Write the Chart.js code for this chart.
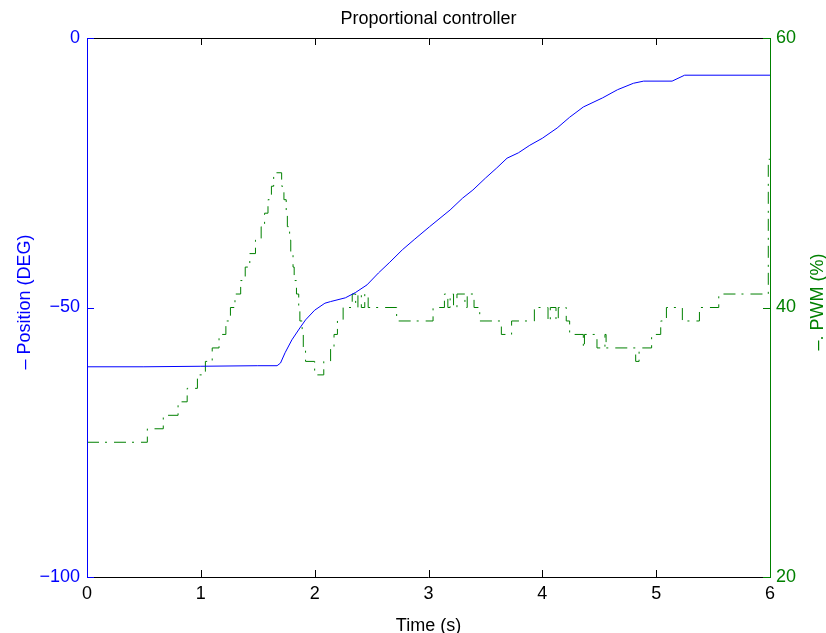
<!DOCTYPE html>
<html>
<head>
<meta charset="utf-8">
<script src="https://cdn.jsdelivr.net/npm/chart.js@4"></script>
<style>
html,body{margin:0;padding:0;background:#fff;}
canvas{display:block;}
</style>
</head>
<body>
<canvas id="chart" width="826" height="633"></canvas>
<script>
// position trace (left axis, DEG)
const posTime=[0,0.5,1.0,1.5,1.67,1.70,1.74,1.80,1.87,1.92,2.00,2.09,2.14,2.27,2.36,2.46,2.56,2.66,2.77,2.88,3.01,3.19,3.30,3.39,3.50,3.60,3.69,3.79,3.89,4.00,4.13,4.24,4.36,4.53,4.66,4.80,4.89,5.14,5.25,6.0];
const posValue=[-61.0,-61.0,-60.9,-60.8,-60.8,-60.3,-58.4,-56.0,-53.8,-52.3,-50.5,-49.2,-48.9,-48.2,-47.2,-45.8,-43.6,-41.6,-39.3,-37.3,-35.0,-31.9,-29.7,-28.2,-26.0,-24.1,-22.3,-21.3,-19.9,-18.6,-16.7,-14.7,-12.8,-11.1,-9.6,-8.4,-8.0,-8.0,-6.9,-6.9];

// PWM trace (right axis, %), value held from each time
const pwmTime=[0,0.53,0.67,0.80,0.88,0.97,1.04,1.10,1.16,1.22,1.26,1.30,1.35,1.39,1.43,1.48,1.53,1.56,1.59,1.62,1.64,
  1.71,1.73,1.75,1.76,1.78,1.79,1.81,1.82,1.84,1.86,1.87,1.89,1.90,1.92,2.00,2.08,2.14,2.17,2.20,2.25,2.33,2.36,2.38,2.41,2.44,2.47,
  2.72,3.04,3.14,3.17,3.19,3.22,3.25,3.32,3.34,3.40,3.45,3.64,3.73,3.93,4.05,4.07,4.12,4.14,4.21,4.24,4.36,4.37,4.48,4.55,4.56,
  4.82,4.85,4.96,5.04,5.09,5.23,5.38,5.55,5.985,6.0];
const pwmValue=[30,31,32,33,34,35,36,37,38,39,40,41,42,43,44,45,46,47,48,49,50,
  49,48,47,46,45,44,43,42,41,40,39,38,37,36,35,36,37,38,39,40,41,40,41,40,41,40,
  39,40,41,40,41,40,41,40,41,40,39,38,39,40,39,40,39,40,39,38,37,38,37,38,37,
  36,37,38,39,40,39,40,41,51,51];

const xTicks=[0,1,2,3,4,5,6];
const leftTicks=[-100,-50,0];
const rightTicks=[20,40,60];

const FONT='"Liberation Sans", Arial, Helvetica, sans-serif';
const BLUE='#0000ff', GREEN='#008000';

const frame={
  id:'frame',
  afterDatasetsDraw(chart){
    const {ctx,chartArea:a,scales}=chart;
    const L=a.left,R=a.right,T=a.top,B=a.bottom,tk=7;
    ctx.save();
    ctx.lineWidth=1;
    // top and bottom black with inward x ticks
    ctx.strokeStyle='#000';
    ctx.beginPath();
    ctx.moveTo(L,T+0.5);ctx.lineTo(R,T+0.5);
    ctx.moveTo(L,B+0.5);ctx.lineTo(R,B+0.5);
    xTicks.forEach(v=>{
      const x=Math.round(scales.x.getPixelForValue(v))+0.5;
      ctx.moveTo(x,T);ctx.lineTo(x,T+tk);
      ctx.moveTo(x,B);ctx.lineTo(x,B-tk);
    });
    ctx.stroke();
    // left blue axis
    ctx.strokeStyle=BLUE;
    ctx.beginPath();
    ctx.moveTo(L+0.5,T);ctx.lineTo(L+0.5,B+1);
    leftTicks.forEach(v=>{
      const y=Math.round(scales.y.getPixelForValue(v))+0.5;
      ctx.moveTo(L,y);ctx.lineTo(L+tk,y);
    });
    ctx.stroke();
    // right green axis
    ctx.strokeStyle=GREEN;
    ctx.beginPath();
    ctx.moveTo(R+0.5,T);ctx.lineTo(R+0.5,B+1);
    rightTicks.forEach(v=>{
      const y=Math.round(scales.y1.getPixelForValue(v))+0.5;
      ctx.moveTo(R,y);ctx.lineTo(R-tk,y);
    });
    ctx.stroke();
    // titles
    ctx.font='18px '+FONT;
    ctx.textAlign='center';ctx.textBaseline='alphabetic';
    ctx.fillStyle='#000';
    ctx.fillText('Proportional controller',(L+R)/2,24);
    ctx.fillText('Time (s)',(L+R)/2,631);
    ctx.save();ctx.translate(30,302);ctx.rotate(-Math.PI/2);
    ctx.fillStyle=BLUE;ctx.fillText('\u2013 Position (DEG)',0,0);ctx.restore();
    ctx.save();ctx.translate(823,302);ctx.rotate(-Math.PI/2);
    ctx.fillStyle=GREEN;ctx.fillText('\u2013. PWM (%)',0,0);ctx.restore();
    ctx.restore();
  }
};

const minus=v=>v<0?'\u2212'+Math.abs(v):''+v;

new Chart(document.getElementById('chart'),{
  type:'line',
  data:{datasets:[
    {label:'Position',data:posTime.map((t,i)=>({x:t,y:posValue[i]})),yAxisID:'y',
     borderColor:BLUE,borderWidth:1,pointRadius:0,tension:0,fill:false},
    {label:'PWM',data:pwmTime.map((t,i)=>({x:t,y:pwmValue[i]})),yAxisID:'y1',stepped:'before',
     borderColor:GREEN,borderWidth:1,borderDash:[12,6,2,7],pointRadius:0,fill:false}
  ]},
  options:{
    responsive:false,animation:false,devicePixelRatio:1,
    layout:{padding:{top:38,left:0,right:0,bottom:0}},
    plugins:{legend:{display:false},tooltip:{enabled:false},title:{display:false}},
    scales:{
      x:{type:'linear',position:'bottom',min:0,max:6,
        afterFit:s=>{s.height=56;},
        afterBuildTicks:s=>{s.ticks=xTicks.map(v=>({value:v}));},
        grid:{display:false,drawTicks:false},border:{display:false},
        ticks:{color:'#000',padding:6,maxRotation:0,font:{family:FONT,size:18}}},
      y:{type:'linear',position:'left',min:-100,max:0,
        afterFit:s=>{s.width=87;},
        afterBuildTicks:s=>{s.ticks=leftTicks.map(v=>({value:v}));},
        grid:{display:false,drawTicks:false},border:{display:false},
        ticks:{color:BLUE,padding:7,callback:minus,font:{family:FONT,size:18}}},
      y1:{type:'linear',position:'right',min:20,max:60,
        afterFit:s=>{s.width=56;},
        afterBuildTicks:s=>{s.ticks=rightTicks.map(v=>({value:v}));},
        grid:{display:false,drawTicks:false},border:{display:false},
        ticks:{color:GREEN,padding:6,font:{family:FONT,size:18}}}
    }
  },
  plugins:[frame]
});
</script>
</body>
</html>
